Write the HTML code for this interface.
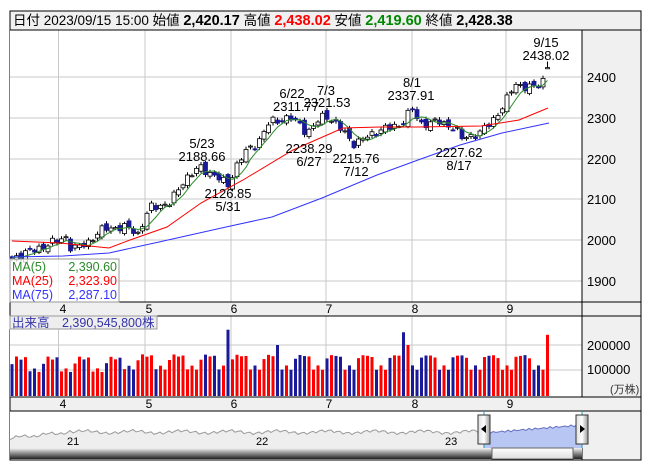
<!DOCTYPE html>
<html><head><meta charset="utf-8">
<style>
html,body{margin:0;padding:0;background:#fff;width:653px;height:470px;overflow:hidden}
svg{display:block;font-family:"Liberation Sans","Noto Sans CJK JP",sans-serif}
</style></head><body>
<svg id="s" width="653" height="470" xmlns="http://www.w3.org/2000/svg">
<defs>
<linearGradient id="sb" x1="0" y1="0" x2="0" y2="1"><stop offset="0" stop-color="#f4f4f4"/><stop offset="0.5" stop-color="#888"/><stop offset="1" stop-color="#222"/></linearGradient>
<linearGradient id="th" x1="0" y1="0" x2="0" y2="1"><stop offset="0" stop-color="#fff"/><stop offset="1" stop-color="#ddd"/></linearGradient>
<linearGradient id="hd" x1="0" y1="0" x2="1" y2="0"><stop offset="0" stop-color="#ddd"/><stop offset="0.5" stop-color="#fff"/><stop offset="1" stop-color="#999"/></linearGradient>
</defs>
<rect x="10" y="11" width="631" height="449" fill="#f0f0f0" stroke="#000"/>
<rect x="10" y="30" width="572" height="272" fill="#fff"/>
<rect x="10" y="316" width="572" height="81" fill="#fff"/>
<rect x="10" y="411" width="572" height="37" fill="#fff"/>
<g id="grid" stroke="#c8c8c8" stroke-width="1"></g>
<g id="main"></g>
<line x1="10" y1="30" x2="641" y2="30" stroke="#000"/>
<line x1="582" y1="30" x2="582" y2="397" stroke="#000"/>
<line x1="10" y1="302" x2="641" y2="302" stroke="#000"/>
<line x1="10" y1="316" x2="641" y2="316" stroke="#000"/>
<line x1="10" y1="397" x2="641" y2="397" stroke="#000"/>
<line x1="10" y1="411" x2="641" y2="411" stroke="#000"/>
<line x1="10" y1="448" x2="582" y2="448" stroke="#000"/>
<line x1="582" y1="411" x2="582" y2="460" stroke="#000"/>
<text x="13" y="25" font-size="13.5"><tspan>日付 2023/09/15 15:00 始値 </tspan><tspan font-weight="bold" font-size="14.5">2,420.17</tspan><tspan> 高値 </tspan><tspan font-weight="bold" font-size="14.5" fill="#f00">2,438.02</tspan><tspan> 安値 </tspan><tspan font-weight="bold" font-size="14.5" fill="#080">2,419.60</tspan><tspan> 終値 </tspan><tspan font-weight="bold" font-size="14.5">2,428.38</tspan></text>
<g font-size="13" fill="#000">
<text x="587" y="82">2400</text><text x="587" y="123">2300</text><text x="587" y="164">2200</text><text x="587" y="204">2100</text><text x="587" y="245">2000</text><text x="587" y="286">1900</text>
<text x="587" y="350">200000</text><text x="587" y="374">100000</text>
<text x="610" y="393" font-size="11" fill="#333">(万株)</text>
</g>
<g font-size="12" text-anchor="middle">
<text x="63" y="313">4</text><text x="149" y="313">5</text><text x="234" y="313">6</text><text x="329" y="313">7</text><text x="415" y="313">8</text><text x="510" y="313">9</text>
<text x="63" y="408">4</text><text x="149" y="408">5</text><text x="234" y="408">6</text><text x="329" y="408">7</text><text x="415" y="408">8</text><text x="510" y="408">9</text>
</g>
<g font-size="13" text-anchor="middle" fill="#000">
<text x="546" y="47">9/15</text><text x="546" y="60">2438.02</text>
<text x="292" y="98">6/22</text><text x="296" y="111">2311.77</text>
<text x="326" y="95">7/3</text><text x="327" y="107">2321.53</text>
<text x="412" y="87">8/1</text><text x="411" y="100">2337.91</text>
<text x="202" y="148">5/23</text><text x="202" y="161">2188.66</text>
<text x="309" y="153">2238.29</text><text x="309" y="166">6/27</text>
<text x="228" y="198">2126.85</text><text x="228" y="211">5/31</text>
<text x="356" y="163">2215.76</text><text x="356" y="176">7/12</text>
<text x="459" y="157">2227.62</text><text x="459" y="170">8/17</text>
</g>
<rect x="10" y="259" width="109" height="43" fill="#fff" fill-opacity="0.75" stroke="#999"/>
<g font-size="12.5">
<text x="12" y="271" fill="#2a8a2a">MA(5)</text><text x="117" y="271" fill="#2a8a2a" text-anchor="end">2,390.60</text>
<text x="12" y="285" fill="#f00">MA(25)</text><text x="117" y="285" fill="#f00" text-anchor="end">2,323.90</text>
<text x="12" y="299" fill="#33f">MA(75)</text><text x="117" y="299" fill="#33f" text-anchor="end">2,287.10</text>
</g>
<rect x="10" y="316" width="147" height="13" fill="#eee" stroke="#999"/>
<text x="12" y="327" font-size="12.5" fill="#33a">出来高　2,390,545,800株</text>
<g id="nav"></g>
<rect x="10" y="448" width="572" height="11" fill="url(#sb)"/>
<rect x="492" y="448" width="81" height="11" fill="url(#th)" stroke="#666"/>
<g font-size="11"><text x="67" y="445">21</text><text x="256" y="445">22</text><text x="445" y="445">23</text></g>
<line x1="484" y1="411" x2="484" y2="448" stroke="#29b"/><line x1="582" y1="411" x2="582" y2="448" stroke="#29b"/>
<rect x="478" y="415" width="12" height="29" fill="url(#hd)" stroke="#333"/>
<rect x="576" y="415" width="12" height="29" fill="url(#hd)" stroke="#333"/>
<path d="M481,429 L486,425 L486,433Z" fill="#000"/><path d="M585,429 L580,425 L580,433Z" fill="#000"/>
</svg>
<script>
var NS="http://www.w3.org/2000/svg";
function el(p,t,a){var e=document.createElementNS(NS,t);for(var k in a)e.setAttribute(k,a[k]);p.appendChild(e);return e;}
var grid=document.getElementById('grid'),main=document.getElementById('main'),nav=document.getElementById('nav');
[58.5,145,231,326,412,506].forEach(function(x){el(grid,'line',{x1:x,y1:30,x2:x,y2:302});el(grid,'line',{x1:x,y1:316,x2:x,y2:397});});
[77,118,159,199,240,281].forEach(function(y){el(grid,'line',{x1:10,y1:y,x2:582,y2:y});});
[345,370].forEach(function(y){el(grid,'line',{x1:10,y1:y,x2:582,y2:y});});
function Y(v){return 240-(v-2000)*0.4075;}
var kp=[[0,1955],[10.7,2000],[11.8,2012],[13.3,1975],[16.9,1995],[20.7,2030],[26.2,2030],[28,2015],[30.7,2080],[35.1,2090],[38.4,2150],[41.8,2178],[45.1,2158],[48,2135],[49.8,2180],[51.8,2215],[54.7,2240],[57.3,2290],[61.8,2300],[64,2285],[65.6,2262],[69.6,2310],[74,2262],[76.2,2235],[78.4,2250],[81.8,2270],[86.2,2282],[88.9,2322],[90.7,2285],[95.1,2290],[98.4,2275],[100,2250],[104,2262],[107.3,2300],[109.6,2335],[111.8,2385],[114,2375],[116.2,2375],[118.2,2395],[119,2428]];
var N=120,C=[];
for(var i=0;i<N;i++){var v=kp[0][1];for(var j=0;j<kp.length-1;j++){if(i>=kp[j][0]&&i<=kp[j+1][0]){var t=(i-kp[j][0])/(kp[j+1][0]-kp[j][0]);v=kp[j][1]+t*(kp[j+1][1]-kp[j][1]);}}if(i>=119)v=2428.38;C.push(v+8*Math.sin(i*2.3)+4*Math.sin(i*5.1));}
for(var i=0;i<N;i++){var x=12+4.5*i,c=C[i],o=(i?C[i-1]:c+4)+7*Math.sin(i*3.7);
 if(i==119)o=2420.17;
 var up=c>=o,hi=Math.max(o,c)+3+4*Math.abs(Math.sin(i*1.9)),lo=Math.min(o,c)-3-4*Math.abs(Math.cos(i*1.3));
 if(i==119){hi=2438.02;lo=2419.6;}
 el(main,'line',{x1:x,y1:Y(hi),x2:x,y2:Y(lo),stroke:'#000','stroke-width':1});
 var yt=Y(Math.max(o,c)),h=Math.max(1,Y(Math.min(o,c))-yt);
 el(main,'rect',{x:x-2,y:yt,width:4,height:h,fill:up?'#fff':'#1a1a99',stroke:up?'#000':'#1a1a99','stroke-width':0.8});
 var vv=135000+30000*Math.sin(i*0.9)+15000*Math.sin(i*2.7);
 if(i<25)vv-=10000;
 if(Math.abs(x-228)<2)vv=260000;if(Math.abs(x-405)<2.3)vv=250000;if(i==119)vv=240000;if(Math.abs(x-279)<2.3)vv=200000;if(Math.abs(x-409)<2.3)vv=200000;
 var vy=396-vv/100000*25.5;
 el(main,'rect',{x:x-1.5,y:vy,width:3,height:396-vy,fill:up?'#f00':'#1a1a99'});
}
function poly(pts,col){el(main,'polyline',{points:pts.map(function(p){return p[0]+','+p[1]}).join(' '),fill:'none',stroke:col,'stroke-width':1});}
var m5=[];for(var i=0;i<N;i++){var s=0,n=0;for(var k=Math.max(0,i-4);k<=i;k++){s+=C[k];n++;}m5.push([12+4.5*i,Y(s/n)]);}
poly(m5,'#2a8a2a');
poly([[12,241],[60,243],[109,248],[130,240],[167,227],[201,203],[243,180],[293,150],[343,128],[380,127],[418,127],[481,126],[519,120],[548,108]],'#f00');
poly([[12,257],[63,256],[109,253],[159,242],[226,227],[272,217],[322,198],[377,175],[418,160],[460,145],[502,133],[549,123]],'#33f');
var np=[];for(var x=10;x<=484;x+=3){var yy=438-6*Math.min(1,(x-10)/60)+1.2*Math.sin(x*0.7)+1*Math.sin(x*0.23);if(x>70)yy=432+1.3*Math.sin(x*0.7)+1.3*Math.sin(x*0.13);np.push([x,yy]);}
var ap=np.map(function(p){return p[0]+','+p[1]}).join(' ');
el(nav,'polygon',{points:'10,448 '+ap+' 484,448',fill:'#eeeeee'});
el(nav,'polyline',{points:ap,fill:'none',stroke:'#999'});
var bp=[];for(var x=484;x<=582;x+=3){bp.push([x,433-8*(x-484)/98+1*Math.sin(x*0.9)]);}
var bs=bp.map(function(p){return p[0]+','+p[1]}).join(' ');
el(nav,'polygon',{points:'484,448 '+bs+' 582,448',fill:'#b8c6f4'});
el(nav,'polyline',{points:bs,fill:'none',stroke:'#6670c0'});
</script>
</body></html>
